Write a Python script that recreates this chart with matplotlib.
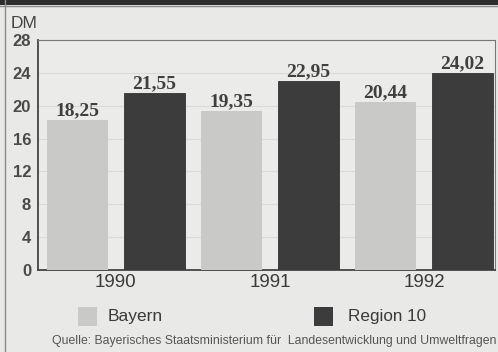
import matplotlib
matplotlib.use("Agg")
import matplotlib.pyplot as plt
from matplotlib.patches import Rectangle
import numpy as np

years = ["1990", "1991", "1992"]
bayern = [18.25, 19.35, 20.44]
region10 = [21.55, 22.95, 24.02]
bayern_labels = ["18,25", "19,35", "20,44"]
region_labels = ["21,55", "22,95", "24,02"]
yticks = [0, 4, 8, 12, 16, 20, 24, 28]
series_names = ["Bayern", "Region 10"]
source = "Quelle: Bayerisches Staatsministerium für  Landesentwicklung und Umweltfragen"

W, H = 498, 352
fig = plt.figure(figsize=(W / 100, H / 100), dpi=100)
fig.patch.set_facecolor("#e9e9e7")

def fx(px):
    return px / W

def fy(py):
    return 1 - py / H

# dark band at top
fig.add_artist(Rectangle((0, fy(5)), 1, 5 / H, transform=fig.transFigure,
                         facecolor="#2e2e2e", edgecolor="none"))
fig.add_artist(plt.Line2D([0, 1], [fy(6), fy(6)], transform=fig.transFigure,
                          color="#8a8a8a", lw=1))
# left page edge
fig.add_artist(plt.Line2D([fx(5), fx(5)], [0, 1], transform=fig.transFigure,
                          color="#8a8a8a", lw=1))

left, right, top, bottom = 38, 495, 40, 270
ax = fig.add_axes([fx(left), fy(bottom), fx(right - left), (bottom - top) / H])
ax.set_facecolor("#ebebe9")

x = np.arange(len(years))
off = 0.25
w = 0.40
ax.bar(x - off, bayern, width=w, color="#c9c9c7", edgecolor="none", zorder=3)
ax.bar(x + off, region10, width=w, color="#3c3c3c", edgecolor="#333333",
       lw=0.6, zorder=3)

for i in range(len(years)):
    ax.text(x[i] - off, bayern[i] + 0.6, bayern_labels[i], ha="center", va="baseline",
            family="Liberation Serif", fontsize=14, fontweight="bold", color="#404040")
    ax.text(x[i] + off, region10[i] + 0.6, region_labels[i], ha="center", va="baseline",
            family="Liberation Serif", fontsize=14, fontweight="bold", color="#404040")

ax.set_xlim(-0.506, 2 + (right - 424) / 154)
ax.set_ylim(0, 28)
ax.set_yticks(yticks)
ax.set_yticklabels([str(t) for t in yticks], family="Liberation Sans",
                   fontsize=12, fontweight="bold", color="#4a4a4a")
ax.set_xticks(x)
ax.set_xticklabels(years, family="Liberation Sans", fontsize=13.5, color="#3a3a3a")
ax.tick_params(axis="y", length=0, pad=5)
ax.tick_params(axis="x", length=0, pad=3)
ax.grid(axis="y", color="#dadad8", lw=0.8, zorder=0)
for s in ["left", "bottom"]:
    ax.spines[s].set_color("#444444")
    ax.spines[s].set_linewidth(1.3)
for s in ["top", "right"]:
    ax.spines[s].set_color("#777777")
    ax.spines[s].set_linewidth(0.8)

fig.text(fx(11), fy(23), "DM", family="Liberation Sans", fontsize=12.5,
         color="#444444", va="center", ha="left")

# legend
fig.add_artist(Rectangle((fx(78), fy(326)), 19 / W, 19 / H, transform=fig.transFigure,
                         facecolor="#c9c9c7", edgecolor="none"))
fig.text(fx(108), fy(317), series_names[0], family="Liberation Sans", fontsize=12.5,
         color="#3a3a3a", va="center", ha="left")
fig.add_artist(Rectangle((fx(314), fy(326)), 19 / W, 19 / H, transform=fig.transFigure,
                         facecolor="#3c3c3c", edgecolor="none"))
fig.text(fx(348), fy(317), series_names[1], family="Liberation Sans", fontsize=12.3,
         color="#3a3a3a", va="center", ha="left")

fig.text(fx(496), fy(341), source, family="Liberation Sans", fontsize=8.85,
         color="#555555", va="center", ha="right")

fig.savefig("out.png", dpi=100, facecolor=fig.get_facecolor())
